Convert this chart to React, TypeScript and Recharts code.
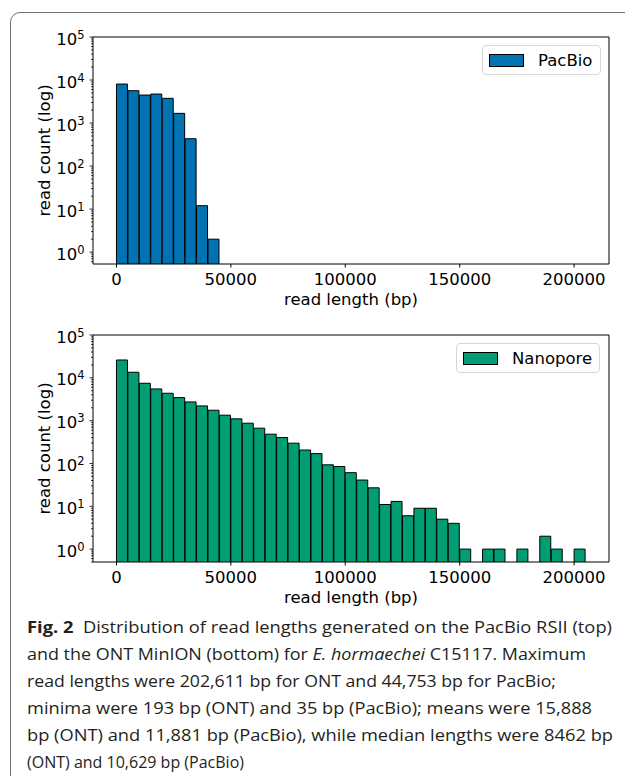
import { BarChart, Bar, XAxis, YAxis, ReferenceArea, Legend } from 'recharts'

const FONT = '"DejaVu Sans", sans-serif'
const CAPTION_FONT = '"Open Sans", "Noto Sans", sans-serif'

// bin starts in kb, every bin is 5 kb wide
const pacbioBins = [0, 5, 10, 15, 20, 25, 30, 35, 40]
const pacbioCounts = [8070, 5650, 4480, 4720, 3750, 1680, 432, 12, 2]

const nanoporeBins = [
  0, 5, 10, 15, 20, 25, 30, 35, 40, 45, 50, 55, 60, 65, 70, 75, 80, 85, 90, 95, 100,
  105, 110, 115, 120, 125, 130, 135, 140, 145, 150, 155, 160, 165, 170, 175, 180, 185, 190, 195, 200,
]
const nanoporeCounts = [
  26100, 13500, 7460, 5500, 4360, 3450, 2735, 2210, 1750, 1340, 1100, 871, 667, 483, 403, 298, 206,
  170, 93, 85, 61, 41, 27, 11, 13, 6, 9, 9, 5, 4, 1, 0, 1, 1, 0, 1, 0, 2, 1, 0, 1,
]

const xTicks = [0, 50000, 100000, 150000, 200000]
const yMajor = [1, 10, 100, 1000, 10000, 100000]
const minorSubs = [2, 3, 4, 5, 6, 7, 8, 9]

const captionLines = [
  [{ t: 'Fig. 2', b: true }, { t: '  Distribution of read lengths generated on the PacBio RSII (top)' }],
  [{ t: 'and the ONT MinION (bottom) for ' }, { t: 'E. hormaechei', i: true }, { t: ' C15117. Maximum' }],
  [{ t: 'read lengths were 202,611 bp for ONT and 44,753 bp for PacBio;' }],
  [{ t: 'minima were 193 bp (ONT) and 35 bp (PacBio); means were 15,888' }],
  [{ t: 'bp (ONT) and 11,881 bp (PacBio), while median lengths were 8462 bp' }],
  [{ t: '(ONT) and 10,629 bp (PacBio)' }],
]
const captionWidths = [585, 559, 529, 565, 586, 217]

const toRows = (bins: number[], counts: number[]) =>
  bins.map((b, i) => ({ x: b * 1000 + 2500, count: counts[i] > 0 ? counts[i] : null }))

function LogTick({ x, y, payload }: any) {
  const v = payload.value
  const exp = Math.round(Math.log10(v))
  const major = Math.abs(Math.log10(v) - exp) < 1e-6
  return (
    <g>
      <line x1={x - (major ? 3.5 : 2)} x2={x} y1={y} y2={y} stroke="#000" strokeWidth={0.8} />
      {major && (
        <text x={x - 8.5} y={y + 7.5} textAnchor="end" fontSize={16.5} fontFamily={FONT} fill="#000">
          10<tspan dy={-6} fontSize={11.5}>{exp}</tspan>
        </text>
      )}
    </g>
  )
}

function LegendBox({ payload }: any) {
  const item = payload && payload[0]
  if (!item) return null
  return (
    <div style={{
      display: 'flex', alignItems: 'center', width: '100%', height: 30, boxSizing: 'border-box',
      border: '1px solid #d6d6d6', borderRadius: 4, background: 'rgba(255,255,255,0.85)',
      paddingLeft: 6, fontFamily: FONT, fontSize: 16.5, color: '#000',
    }}>
      <span style={{ width: 35, height: 13, background: item.color, border: '1px solid #000', boxSizing: 'border-box', marginRight: 14 }} />
      <span>{item.value}</span>
    </div>
  )
}

function Histogram({ rows, name, color, yMin, legendPos }: any) {
  const yTicks = [...yMajor, ...yMajor.slice(0, -1).flatMap((m) => minorSubs.map((s) => m * s)), ...minorSubs.map((s) => s / 10)]
    .filter((t) => t >= yMin)
  return (
    <BarChart width={625} height={310} data={rows} margin={{ top: 37, right: 16, bottom: 0, left: 33 }} barCategoryGap={0} barGap={0}>
      <XAxis
        type="number" dataKey="x" domain={[-10250, 215250]} ticks={xTicks} interval={0} allowDataOverflow
        axisLine={false} stroke="#000" tickSize={3.5} tickMargin={6} height={46}
        tick={{ fontSize: 16.5, fill: '#000', fontFamily: FONT }}
        label={{ value: 'read length (bp)', position: 'insideBottom', offset: 5, fontSize: 16.5, fill: '#000', fontFamily: FONT }}
      />
      <YAxis
        scale="log" domain={[yMin, 100000]} ticks={yTicks} interval={0} allowDataOverflow
        axisLine={false} tickLine={false} tickSize={0} tickMargin={0} width={60} tick={<LogTick />}
        label={{ value: 'read count (log)', angle: -90, position: 'insideLeft', offset: 11, textAnchor: 'middle', fontSize: 16.5, fill: '#000', fontFamily: FONT }}
      />
      <Bar dataKey="count" name={name} fill={color} stroke="#000" strokeWidth={1} isAnimationActive={false} />
      <ReferenceArea x1={-10250} x2={215250} y1={yMin} y2={100000} fill="none" stroke="#000" strokeWidth={1} fillOpacity={0} />
      <Legend
        layout="horizontal" align="center" verticalAlign="middle" content={<LegendBox />}
        wrapperStyle={{ top: legendPos.top, left: legendPos.left, width: legendPos.width, height: 30 }}
      />
    </BarChart>
  )
}

export default function App() {
  return (
    <div style={{ position: 'absolute', left: 0, top: 0, width: 625, height: 776, overflow: 'hidden', background: '#fff' }}>
      <div style={{ position: 'absolute', left: 10, top: 12, width: 760, height: 900, border: '1.5px solid #6f6f6f', borderRadius: 10 }} />
      <div style={{ position: 'absolute', left: 0, top: 0 }}>
        <Histogram rows={toRows(pacbioBins, pacbioCounts)} name="PacBio" color="#0173B2" yMin={0.53} legendPos={{ top: 45, left: 482, width: 119 }} />
      </div>
      <div style={{ position: 'absolute', left: 0, top: 298 }}>
        <Histogram rows={toRows(nanoporeBins, nanoporeCounts)} name="Nanopore" color="#029E73" yMin={0.5} legendPos={{ top: 45, left: 456, width: 144 }} />
      </div>
      <svg style={{ position: 'absolute', left: 0, top: 600 }} width={625} height={176}>
        {captionLines.map((segs, i) => (
          <text key={i} x={27} y={33 + i * 27} fontSize={16.5} fontFamily={CAPTION_FONT} fill="#231f20"
            xmlSpace="preserve" textLength={captionWidths[i]} lengthAdjust="spacingAndGlyphs">
            {segs.map((s: any, j) => (
              <tspan key={j} fontWeight={s.b ? 700 : 400} fontStyle={s.i ? 'italic' : 'normal'}>{s.t}</tspan>
            ))}
          </text>
        ))}
      </svg>
    </div>
  )
}
